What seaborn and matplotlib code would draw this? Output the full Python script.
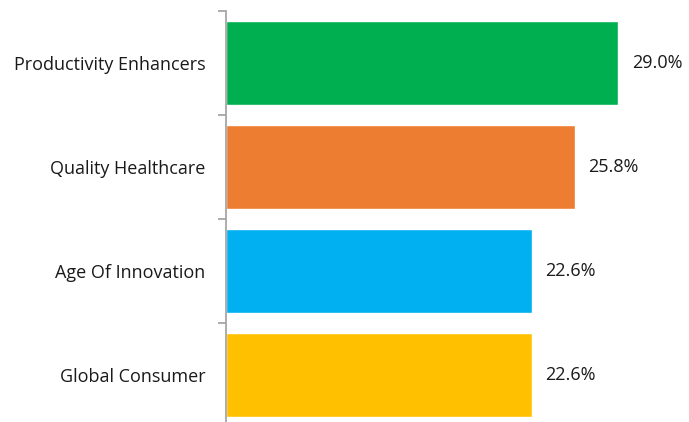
import numpy as np
import pandas as pd
import matplotlib
matplotlib.use("Agg")
import matplotlib.pyplot as plt
import seaborn as sns

# datos del gráfico
categorias = ["Productivity Enhancers", "Quality Healthcare", "Age Of Innovation", "Global Consumer"]
valores = [29.0, 25.8, 22.6, 22.6]
colores = ["#00B050", "#ED7D31", "#00B0F0", "#FFC000"]

df = pd.DataFrame({"categoria": categorias, "valor": valores})

sns.set_style("white")
plt.rcParams['font.family'] = ['Open Sans', 'DejaVu Sans']

fig = plt.figure(figsize=(6.89, 4.22), dpi=100)
ax = fig.add_axes([226 / 689, -5 / 422, 460 / 689, 416 / 422])

sns.barplot(data=df, x="valor", y="categoria", hue="categoria", palette=colores,
            width=0.81, legend=False, ax=ax, saturation=1)

ax.set_xlim(0, 34)
ax.set_ylim(3.5, -0.5)
ax.set_xlabel("")
ax.set_ylabel("")
ax.set_xticks([])

# etiquetas de valor
for i, v in enumerate(valores):
    ax.text(v + 1.0, i, f"{v:.1f}%", va="center", ha="left", fontsize=13, color="#1a1a1a")

for s in ["top", "right", "bottom"]:
    ax.spines[s].set_visible(False)
ax.spines["left"].set_color("#A6A6A6")
ax.spines["left"].set_linewidth(1.3)

ax.tick_params(axis="y", which="major", length=0, pad=15, labelsize=13, labelcolor="#1a1a1a")
ax.set_yticks(np.arange(-0.5, 4.0, 1.0), minor=True)
ax.tick_params(axis="y", which="minor", length=6, width=1.3, color="#A6A6A6", direction="out", left=True)

fig.savefig("out.png", dpi=100)
